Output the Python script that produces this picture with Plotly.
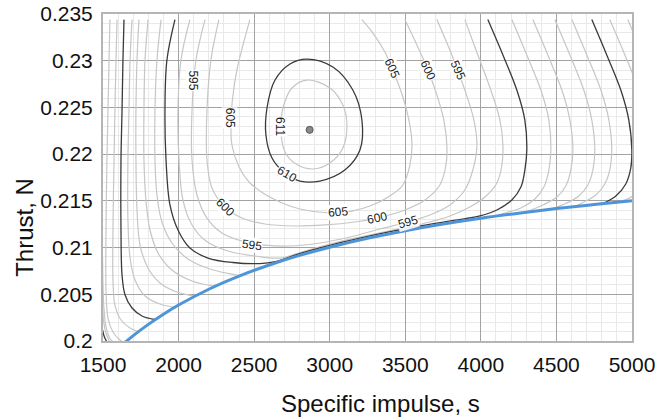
import plotly.graph_objects as go

# ---------------- axis ticks ----------------
x_tick_vals = [1500, 2000, 2500, 3000, 3500, 4000, 4500, 5000]
x_tick_text = ["1500", "2000", "2500", "3000", "3500", "4000", "4500", "5000"]
y_tick_vals = [0.2, 0.205, 0.21, 0.215, 0.22, 0.225, 0.23, 0.235]
y_tick_text = ["0.2", "0.205", "0.21", "0.215", "0.22", "0.225", "0.23", "0.235"]

# ---------------- feasibility boundary (blue) ----------------
boundary_isp = [1640, 1700, 1800, 1900, 2000, 2200, 2400, 2600, 2800, 3000, 3250, 3500, 3750, 4000, 4250, 4500, 4750, 5000]
boundary_thr = [0.19977, 0.20057, 0.20178, 0.20287, 0.20385, 0.20554, 0.20694, 0.20813, 0.20916, 0.21004,
                0.21099, 0.21181, 0.21252, 0.21314, 0.21368, 0.21417, 0.21461, 0.21500]

# ---------------- optimum point ----------------
optimum_isp = [2867]
optimum_thr = [0.2226]

# ---------------- contour lines ----------------
c611_isp = [2849, 3001, 3087, 3114, 3087, 3001, 2889, 2777, 2704, 2677, 2691, 2750, 2849]
c611_thr = [0.22793, 0.22708, 0.22526, 0.22312, 0.22066, 0.21905, 0.21841, 0.21894, 0.22023, 0.22258, 0.22494, 0.22708, 0.22793]

c610_isp = [2849, 3021, 3153, 3213, 3200, 3100, 2935, 2803, 2704, 2618, 2578, 2585, 2638, 2737, 2849]
c610_thr = [0.23018, 0.22933, 0.22686, 0.22365, 0.22044, 0.21830, 0.21712, 0.21712, 0.21798, 0.21959, 0.22205, 0.22494, 0.22793, 0.22965, 0.23018]

c605_isp = [2472, 2426, 2386, 2360, 2347, 2353, 2400, 2466, 2558, 2671, 2803, 3001, 3147, 3266, 3398, 3484, 3531, 3544, 3524, 3484, 3431, 3365, 3286, 3213]
c605_thr = [0.2344, 0.23168, 0.22901, 0.22633, 0.22365, 0.22098, 0.21862, 0.21702, 0.21584, 0.21488, 0.21413, 0.21370, 0.21391, 0.21445,
            0.21552, 0.21670, 0.21884, 0.22119, 0.22365, 0.22612, 0.22847, 0.23093, 0.23296, 0.2344]

c600_isp = [2267, 2214, 2188, 2188, 2221, 2307, 2419, 2571, 2770, 2968, 3167, 3312, 3497, 3630, 3729, 3769, 3775, 3755, 3709, 3650, 3577, 3497]
c600_thr = [0.2344, 0.23008, 0.22472, 0.21937, 0.21638, 0.21434, 0.21316, 0.21252, 0.21231, 0.21242, 0.21274, 0.21316, 0.21402, 0.21509,
            0.21670, 0.21884, 0.22098, 0.22365, 0.22633, 0.22901, 0.23168, 0.2344]

c595_isp = [2175, 2115, 2089, 2089, 2122, 2188, 2287, 2419, 2571, 2737, 2935, 3134, 3332, 3517, 3663, 3795, 3894, 3947, 3974, 3954, 3894, 3808, 3709]
c595_thr = [0.2344, 0.23008, 0.22472, 0.21937, 0.21563, 0.21316, 0.21156, 0.21070, 0.21027, 0.21017, 0.21049, 0.21113, 0.21199, 0.21274,
            0.21349, 0.21456, 0.21616, 0.21830, 0.22098, 0.22365, 0.22686, 0.23061, 0.2344]

c590_isp = [2075, 2016, 1996, 2003, 2029, 2089, 2181, 2327, 2505, 2671, 2803, 3001, 3200, 3464, 3663, 3795, 3927, 4027, 4106, 4139, 4146, 4126, 4066, 3980, 3894]
c590_thr = [0.2344, 0.23008, 0.22472, 0.21937, 0.21509, 0.21242, 0.21070, 0.20963, 0.20910, 0.20888, 0.20947, 0.21038, 0.21113, 0.21204,
            0.21274, 0.21338, 0.21434, 0.21541, 0.21691, 0.21884, 0.22098, 0.22365, 0.22686, 0.23061, 0.2344]

c585_isp = [1976, 1923, 1910, 1917, 1943, 1996, 2075, 2194, 2360, 2538, 2640, 2800, 3000, 3200, 3400, 3600, 3800, 3900, 3994, 4106,
            4205, 4265, 4291, 4304, 4291, 4238, 4146, 4046]
c585_thr = [0.2344, 0.23008, 0.22472, 0.21937, 0.21456, 0.21188, 0.20995, 0.20888, 0.20840, 0.20829, 0.2085, 0.20936, 0.21024, 0.21101,
            0.21170, 0.21231, 0.21285, 0.2131, 0.21338, 0.21402, 0.21509, 0.21648, 0.21830, 0.22044, 0.22365, 0.22686, 0.23061, 0.2344]

c580_left_isp = [1884, 1857, 1844, 1844, 1857, 1890, 1956, 2062, 2208, 2406]
c580_left_thr = [0.2344, 0.23008, 0.22472, 0.21937, 0.21563, 0.21274, 0.21049, 0.20878, 0.20771, 0.2070]
c580_right_isp = [4205, 4304, 4397, 4450, 4463, 4450, 4417, 4357, 4265, 4159, 4093]
c580_right_thr = [0.2344, 0.23061, 0.22686, 0.22365, 0.22044, 0.21830, 0.21648, 0.21520, 0.21423, 0.21370, 0.21335]

c575_left_isp = [1798, 1778, 1771, 1771, 1784, 1811, 1864, 1956, 2089, 2241]
c575_left_thr = [0.2344, 0.23008, 0.22472, 0.21937, 0.21509, 0.21188, 0.20942, 0.20760, 0.20642, 0.20584]
c575_right_isp = [4344, 4443, 4536, 4589, 4609, 4595, 4562, 4503, 4410, 4331, 4271]
c575_right_thr = [0.2344, 0.23061, 0.22686, 0.22365, 0.22044, 0.21830, 0.21659, 0.21541, 0.21456, 0.21402, 0.21373]

c570_left_isp = [1738, 1725, 1718, 1718, 1725, 1745, 1798, 1877, 1989, 2108]
c570_left_thr = [0.2344, 0.23008, 0.22472, 0.21937, 0.21402, 0.21027, 0.20781, 0.20621, 0.20524, 0.20480]
c570_right_isp = [4489, 4589, 4681, 4734, 4754, 4741, 4708, 4648, 4562, 4456]
c570_right_thr = [0.2344, 0.23061, 0.22686, 0.22365, 0.22044, 0.21830, 0.21670, 0.21552, 0.21472, 0.21409]

c565_left_isp = [1692, 1679, 1672, 1665, 1665, 1679, 1712, 1778, 1877, 1976]
c565_left_thr = [0.2344, 0.23008, 0.22472, 0.21937, 0.21295, 0.20888, 0.20653, 0.20482, 0.20396, 0.2036]
c565_right_isp = [4602, 4701, 4794, 4847, 4866, 4853, 4820, 4761, 4688, 4622]
c565_right_thr = [0.2344, 0.23061, 0.22686, 0.22365, 0.22044, 0.21830, 0.21680, 0.21563, 0.21493, 0.21439]

c560_left_isp = [1639, 1632, 1626, 1619, 1619, 1626, 1646, 1692, 1758, 1844]
c560_left_thr = [0.2344, 0.23008, 0.22472, 0.21937, 0.21188, 0.20706, 0.20492, 0.20353, 0.20268, 0.2023]
c560_right_isp = [4734, 4833, 4926, 4979, 4999, 4992, 4959, 4893, 4807]
c560_right_thr = [0.2344, 0.23061, 0.22686, 0.22365, 0.22044, 0.21852, 0.21680, 0.21552, 0.21470]

c555_left_isp = [1593, 1586, 1579, 1573, 1566, 1566, 1579, 1619, 1679, 1731]
c555_left_thr = [0.2344, 0.23008, 0.22472, 0.21937, 0.21188, 0.20653, 0.20385, 0.20225, 0.20139, 0.2010]
c555_right_isp = [4853, 4953, 5045, 5098, 5118, 5105, 5072, 5005, 4919]
c555_right_thr = [0.2344, 0.23061, 0.22686, 0.22365, 0.22044, 0.21830, 0.21680, 0.21552, 0.2149]

c550_left_isp = [1546, 1540, 1533, 1526, 1520, 1520, 1533, 1566, 1612, 1640]
c550_left_thr = [0.2344, 0.23008, 0.22472, 0.21937, 0.21188, 0.20546, 0.20246, 0.20096, 0.2001, 0.1998]
c550_right_isp = [4972, 5072, 5165]
c550_right_thr = [0.2344, 0.23061, 0.22686]

c545_isp = [1497, 1500, 1506, 1520, 1545, 1575]
c545_thr = [0.2090, 0.2060, 0.2035, 0.2015, 0.2003, 0.1998]
c540_isp = [1497, 1505, 1520, 1545]
c540_thr = [0.2040, 0.2020, 0.2008, 0.1999]
c535_isp = [1497, 1510, 1530]
c535_thr = [0.2012, 0.2004, 0.1998]

# ---------------- contour labels ----------------
label_text = ["595", "605", "611", "610", "600", "595", "605", "600", "595", "605", "600", "595"]
label_isp = [2095, 2340, 2671, 2717, 2307, 2485, 3054, 3312, 3517, 3411, 3650, 3848]
label_thr = [0.2279, 0.2239, 0.2229, 0.2179, 0.2143, 0.2103, 0.2138, 0.2132, 0.2127, 0.2292, 0.2290, 0.2290]
label_angle = [90, 90, 90, 30, 45, 8, -5, -12, -16, 66, 66, 66]

LIGHT = "#c6c6c6"
DARK = "#3a3a3a"

lines = [
    (c611_isp, c611_thr, LIGHT), (c610_isp, c610_thr, DARK), (c605_isp, c605_thr, LIGHT),
    (c600_isp, c600_thr, LIGHT), (c595_isp, c595_thr, LIGHT), (c590_isp, c590_thr, LIGHT),
    (c580_left_isp, c580_left_thr, LIGHT), (c580_right_isp, c580_right_thr, LIGHT),
    (c575_left_isp, c575_left_thr, LIGHT), (c575_right_isp, c575_right_thr, LIGHT),
    (c570_left_isp, c570_left_thr, LIGHT), (c570_right_isp, c570_right_thr, LIGHT),
    (c565_left_isp, c565_left_thr, LIGHT), (c565_right_isp, c565_right_thr, LIGHT),
    (c555_left_isp, c555_left_thr, LIGHT), (c555_right_isp, c555_right_thr, LIGHT),
    (c550_left_isp, c550_left_thr, LIGHT), (c550_right_isp, c550_right_thr, LIGHT),
    (c545_isp, c545_thr, LIGHT), (c540_isp, c540_thr, LIGHT),
    (c585_isp, c585_thr, DARK), (c560_left_isp, c560_left_thr, DARK), (c560_right_isp, c560_right_thr, DARK),
    (c535_isp, c535_thr, DARK),
]

fig = go.Figure()
for xs, ys, col in lines:
    fig.add_trace(go.Scatter(x=xs, y=ys, mode="lines", line=dict(color=col, width=1.3 if col == DARK else 1.2, shape="spline", smoothing=1.0),
                             hoverinfo="skip", showlegend=False))

fig.add_trace(go.Scatter(x=boundary_isp, y=boundary_thr, mode="lines", line=dict(color="#4e94d8", width=3, shape="spline"),
                         hoverinfo="skip", showlegend=False))
fig.add_trace(go.Scatter(x=optimum_isp, y=optimum_thr, mode="markers",
                         marker=dict(size=7, color="#8a8a8a", line=dict(color="#555555", width=1)),
                         hoverinfo="skip", showlegend=False))

for t, xi, yi, a in zip(label_text, label_isp, label_thr, label_angle):
    fig.add_annotation(x=xi, y=yi, text=t, textangle=a, showarrow=False, font=dict(size=12, color="#222222"),
                       bgcolor="rgba(255,255,255,0.9)", borderpad=0)

fig.add_annotation(text="Thrust, N", x=-0.1475, y=0.349, xref="paper", yref="paper", xanchor="center", yanchor="middle",
                   textangle=-90, showarrow=False, font=dict(size=24, color="#111111"))
fig.add_annotation(text="Specific impulse, s", x=0.5255, y=-0.19, xref="paper", yref="paper", xanchor="center", yanchor="middle",
                   showarrow=False, font=dict(size=24, color="#111111"))

fig.update_layout(width=656, height=419, margin=dict(l=103, r=24, t=14, b=78, autoexpand=False),
                  plot_bgcolor="white", paper_bgcolor="white", showlegend=False,
                  font=dict(family="Liberation Sans, Arial, sans-serif", color="#111111"))
fig.update_xaxes(range=[1500, 5000], tickmode="array", tickvals=x_tick_vals, ticktext=x_tick_text, automargin=False,
                 showgrid=True, gridcolor="#a3a3a3", gridwidth=1,
                 minor=dict(tickmode="linear", tick0=1500, dtick=100, showgrid=True, gridcolor="#e9e9e9", gridwidth=1),
                 showline=True, mirror=True, linecolor="#b5b5b5", linewidth=2, zeroline=False,
                 ticks="outside", ticklen=4, tickcolor="rgba(0,0,0,0)", tickfont=dict(size=21))
fig.update_yaxes(range=[0.2, 0.235], tickmode="array", tickvals=y_tick_vals, ticktext=y_tick_text, automargin=False,
                 showgrid=True, gridcolor="#a3a3a3", gridwidth=1,
                 minor=dict(tickmode="linear", tick0=0.2, dtick=0.001, showgrid=True, gridcolor="#e9e9e9", gridwidth=1),
                 showline=True, mirror=True, linecolor="#b5b5b5", linewidth=2, zeroline=False,
                 ticks="outside", ticklen=4, tickcolor="rgba(0,0,0,0)", tickfont=dict(size=21))

fig.write_html("out.html", config={"displayModeBar": False},
               post_script="document.body.style.margin='0';document.body.style.overflow='hidden';")
